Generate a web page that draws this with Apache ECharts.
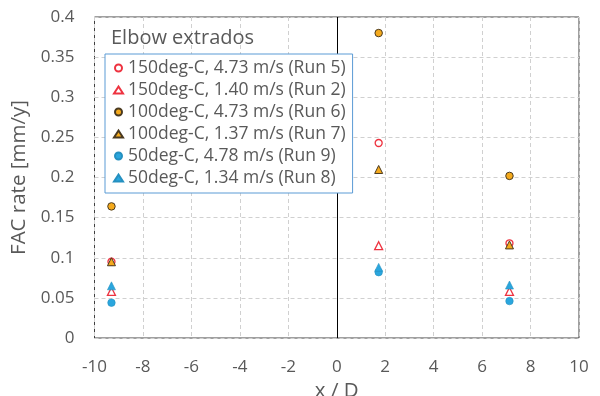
<!DOCTYPE html>
<html><head><meta charset="utf-8">
<script src="https://cdn.jsdelivr.net/npm/echarts@6/dist/echarts.min.js"></script>
<style>html,body{margin:0;padding:0;background:#fff}#c{width:600px;height:396px}</style>
</head><body><div id="c"></div>
<script>
// Data
const xPositions = [-9.3, 1.73, 7.13];
const run5 = [0.095, 0.243, 0.118];   // 150deg-C, 4.73 m/s
const run2 = [0.058, 0.115, 0.058];   // 150deg-C, 1.40 m/s
const run6 = [0.164, 0.380, 0.202];   // 100deg-C, 4.73 m/s
const run7 = [0.095, 0.210, 0.116];   // 100deg-C, 1.37 m/s
const run9 = [0.044, 0.082, 0.046];   // 50deg-C, 4.78 m/s
const run8 = [0.065, 0.088, 0.066];   // 50deg-C, 1.34 m/s
const seriesNames = [
  '150deg-C, 4.73 m/s (Run 5)',
  '150deg-C, 1.40 m/s (Run 2)',
  '100deg-C, 4.73 m/s (Run 6)',
  '100deg-C, 1.37 m/s (Run 7)',
  '50deg-C, 4.78 m/s (Run 9)',
  '50deg-C, 1.34 m/s (Run 8)'
];
const titleText = 'Elbow extrados';
const xName = 'x / D';
const yName = 'FAC rate [mm/y]';

const pair = arr => xPositions.map((x, i) => [x, arr[i]]);
const RED = '#EE3340', ORANGE = '#F5AA1C', BLUE = '#2AA6DE';
const styles = [
  {symbol: 'circle', size: 7, color: 'rgba(255,255,255,0)', border: RED, bw: 1.3},
  {symbol: 'triangle', size: 8, color: 'rgba(255,255,255,0)', border: RED, bw: 1.3},
  {symbol: 'circle', size: 7.5, color: ORANGE, border: '#4a3a20', bw: 1},
  {symbol: 'triangle', size: 8, color: ORANGE, border: '#4a3a20', bw: 1},
  {symbol: 'circle', size: 7.5, color: BLUE, border: '#2590c0', bw: 0.6},
  {symbol: 'triangle', size: 8, color: BLUE, border: '#2590c0', bw: 0.6}
];
const dataSets = [run5, run2, run6, run7, run9, run8];
const txt = '#595959';
const FONT = 'Open Sans';

const series = dataSets.map((d, i) => ({
  type: 'scatter', name: seriesNames[i], data: pair(d),
  symbol: styles[i].symbol, symbolSize: styles[i].size,
  itemStyle: {color: styles[i].color, borderColor: styles[i].border, borderWidth: styles[i].bw, opacity: 1},
  emphasis: {disabled: true}, z: 3 + i
}));
series[0].markLine = {
  silent: true, symbol: 'none', label: {show: false},
  lineStyle: {color: '#000', type: 'solid', width: 1},
  data: [{xAxis: 0}], animation: false
};

const chart = echarts.init(document.getElementById('c'), null, {renderer: 'canvas'});
chart.setOption({
  animation: false,
  backgroundColor: '#fff',
  textStyle: {fontFamily: FONT},
  title: {
    text: titleText, left: 106, top: 23,
    textStyle: {fontFamily: FONT, fontSize: 20, fontWeight: 'normal', color: txt}
  },
  legend: {
    orient: 'vertical', left: 105, top: 54,
    data: seriesNames,
    backgroundColor: '#fff', borderColor: '#5B9BD5', borderWidth: 1,
    padding: [5, 7, 6, 8], itemGap: 4, itemWidth: 9, itemHeight: 7,
    textStyle: {fontFamily: FONT, fontSize: 17.5, color: txt, lineHeight: 18},
    selectedMode: false, z: 10
  },
  grid: {left: 94.5, right: 21, top: 17, bottom: 58, show: true, borderColor: '#404040', borderWidth: 1,
         containLabel: false, outerBoundsMode: 'none'},
  xAxis: {
    type: 'value', min: -10, max: 10, interval: 2,
    name: xName, nameLocation: 'middle', nameGap: 37,
    nameTextStyle: {fontFamily: FONT, fontSize: 20.5, color: txt},
    axisLine: {show: false}, axisTick: {show: false},
    axisLabel: {fontFamily: FONT, fontSize: 17, color: txt, margin: 21},
    splitLine: {show: true, lineStyle: {color: '#d0d0d0', type: [4, 3], width: 1}}
  },
  yAxis: {
    type: 'value', min: 0, max: 0.4, interval: 0.05,
    name: yName, nameLocation: 'middle', nameGap: 47,
    nameTextStyle: {fontFamily: FONT, fontSize: 20.5, color: txt},
    axisLine: {show: false}, axisTick: {show: false},
    axisLabel: {fontFamily: FONT, fontSize: 17, color: txt, margin: 20},
    splitLine: {show: true, lineStyle: {color: '#d0d0d0', type: [4, 3], width: 1}}
  },
  series: series
});
</script></body></html>
